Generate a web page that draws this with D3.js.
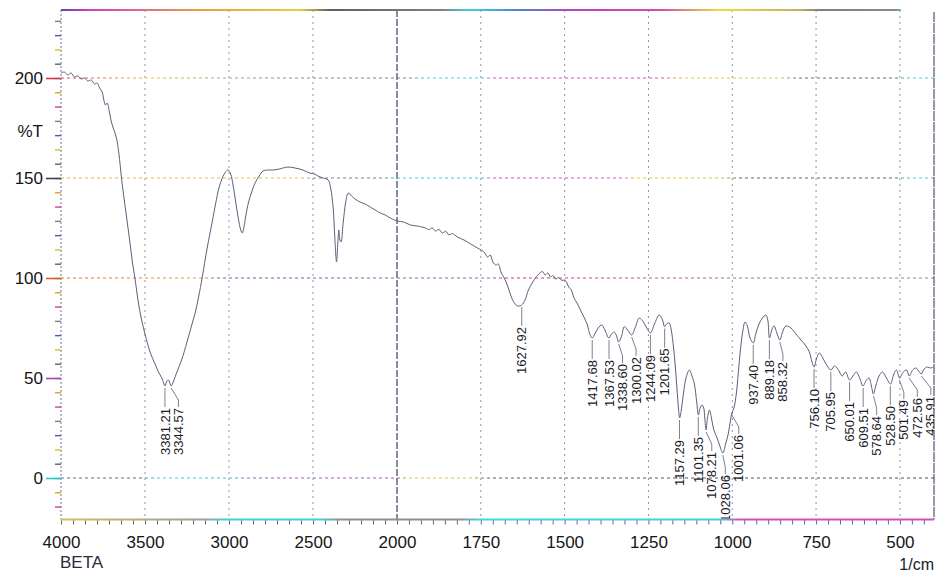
<!DOCTYPE html>
<html lang="en">
<head>
    <meta charset="UTF-8">
    <title>FTIR spectrum - BETA</title>
    <script src="https://d3js.org/d3.v7.min.js"></script>
    <style>
        body { margin: 0; background: #fff; }
        svg { display: block; font-family: "Liberation Sans", Arial, sans-serif; }
    </style>
</head>
<body>

<svg id="chart" width="938" height="576"></svg>

<script>
    // spectrum (wavenumber in 1/cm, transmittance in %T)
    const wavenumber = [
        4000, 3980, 3960, 3940, 3920, 3900, 3880, 3860, 3840, 3820, 3800, 3785, 3770, 3755, 3745, 3735, 3725, 3712,
        3700, 3685, 3670, 3655, 3640, 3625, 3609, 3590, 3575, 3560, 3540, 3520, 3500, 3470, 3440, 3420, 3400, 3381,
        3370, 3360, 3344, 3330, 3310, 3282, 3250, 3220, 3200, 3180, 3160, 3130, 3100, 3080, 3060, 3040, 3020, 3005,
        2990, 2975, 2960, 2945, 2930, 2921, 2912, 2900, 2885, 2865, 2845, 2820, 2798, 2770, 2740, 2700, 2650, 2607,
        2560, 2520, 2490, 2470, 2440, 2410, 2395, 2380, 2370, 2360, 2352, 2346, 2340, 2333, 2320, 2305, 2290, 2270,
        2250, 2220, 2190, 2160, 2130, 2100, 2070, 2040, 2000, 1980, 1960, 1940, 1930, 1915, 1905, 1895, 1885, 1875,
        1865, 1855, 1845, 1835, 1820, 1800, 1780, 1760, 1749, 1738, 1730, 1722, 1714, 1705, 1698, 1689, 1680, 1670,
        1660, 1650, 1640, 1628, 1618, 1608, 1595, 1584, 1574, 1566, 1558, 1550, 1542, 1535, 1527, 1518, 1508, 1500,
        1493, 1488, 1480, 1472, 1463, 1450, 1433, 1425, 1418, 1410, 1400, 1389, 1380, 1368, 1360, 1352, 1345, 1339,
        1330, 1322, 1312, 1300, 1290, 1277, 1265, 1255, 1244, 1232, 1218, 1208, 1202, 1196, 1188, 1182, 1175, 1170,
        1165, 1160, 1157, 1152, 1145, 1138, 1128, 1120, 1113, 1106, 1101, 1096, 1090, 1085, 1082, 1078, 1074, 1068,
        1062, 1055, 1045, 1037, 1028, 1020, 1012, 1006, 1001, 995, 988, 982, 975, 968, 962, 955, 947, 937,
        930, 920, 910, 900, 894, 889, 882, 875, 866, 858, 850, 840, 825, 810, 795, 780, 770, 762,
        756, 748, 740, 730, 720, 706, 695, 685, 672, 662, 650, 640, 630, 620, 610, 600, 592, 585,
        579, 572, 562, 552, 540, 528, 518, 510, 501, 490, 480, 472, 462, 452, 444, 436, 428, 418,
        408, 400
    ];
    const transmittance = [
        202.5, 203, 201.5, 202.5, 200.5, 201, 199.5, 200, 198.5, 199, 197, 197.5, 195, 193, 189, 186.5, 187.5, 183,
        178, 174, 170, 162, 150, 140, 130, 118, 108, 100, 88, 79, 72, 63, 57, 53, 50, 46,
        48.5, 49, 46, 48.5, 53, 59, 68, 77, 83, 91, 100, 115, 128, 137, 145, 150, 153, 154,
        152, 146, 138, 130, 124, 122.5, 125, 131, 137.5, 143, 147.5, 151, 153.5, 154, 154, 154.5, 155.5, 155,
        154, 152.5, 152, 151, 150, 149, 145, 135, 120, 108, 118, 124, 119, 118, 128, 138, 142.5, 141,
        139.5, 138, 137, 135.5, 134, 132.5, 131.5, 130, 128.5, 128, 126.5, 126, 125.7, 125, 124.2, 125, 123.5, 124.3,
        122.5, 123.4, 121.6, 122.2, 120.5, 119, 117, 115, 114, 112.5, 110.5, 111.5, 108, 106.5, 107, 102.5, 100, 96,
        91, 87.5, 86, 86.5, 89, 94, 98, 100.7, 102.5, 103.2, 101.5, 102.5, 100.5, 101.3, 99.5, 100.2, 98.8, 99,
        97.5, 95.5, 94, 90, 87.5, 83, 77, 72, 70, 72, 75, 76.5, 74, 70, 72, 73, 71, 68,
        71, 75.7, 74, 71.5, 75, 80, 78, 75, 72.5, 77, 81.5, 79, 75.7, 77, 77.5, 74, 65, 56,
        45, 34, 30, 34, 43, 50, 54, 51, 47, 38, 31.5, 35, 36.5, 35, 30, 24, 30, 34,
        30, 24, 20, 16, 12.5, 17, 22, 28, 32.5, 35, 42, 52.5, 65, 74, 78, 76, 70, 67.5,
        72, 77, 80, 81.5, 79, 70, 74, 76, 72, 69, 73, 76, 75, 72, 69, 66, 63, 58,
        55.5, 60, 62.5, 60, 57, 54, 56, 54.5, 51, 53, 49, 51, 53, 50, 46, 49, 50, 46,
        42, 46, 51, 53, 50, 47, 52, 54, 50, 53, 54, 51, 54, 55, 53.5, 52, 54.5, 55.5,
        55, 55.5
    ];

    // labelled absorption bands and the %T at each dip
    const peakLabels = [
        "3381.21", "3344.57", "1627.92", "1417.68", "1367.53", "1338.60", "1300.02", "1244.09", "1201.65",
        "1157.29", "1101.35", "1078.21", "1028.06", "1001.06", "937.40", "889.18", "858.32",
        "756.10", "705.95", "650.01", "609.51", "578.64", "528.50", "501.49", "472.56", "435.91"
    ];
    const peakT = [
        46, 46, 86.5, 70, 70, 68, 71.5, 72.5, 75.7,
        30, 31.5, 24, 12.5, 32.5, 67.5, 70, 69,
        55.5, 54, 49, 46, 42, 47, 50, 51, 52
    ];

    // axis ticks
    const xTicks = [4000, 3500, 3000, 2500, 2000, 1750, 1500, 1250, 1000, 750, 500];
    const yTicks = [0, 50, 100, 150, 200];
    const yGrid = [0, 100, 150, 200];   // the 50 line does not show on the print

    const svg = d3.select("#chart");
    const plotLeft = 61, plotRight = 934, plotTop = 10, plotBottom = 519.5;

    // Shimadzu style: scale doubles below 2000 1/cm
    const xScale = d3.scaleLinear()
        .domain([4000, 2000, 400])
        .range([plotLeft, 397, 933.4]);

    const yScale = d3.scaleLinear()
        .domain([-20.75, 234])
        .range([plotBottom, plotTop]);

    // gradients to mimic the colour fringes of the scanned print
    const defs = svg.append("defs");
    function gradient(id, stops) {
        const g = defs.append("linearGradient")
            .attr("id", id)
            .attr("gradientUnits", "userSpaceOnUse")
            .attr("x1", plotLeft).attr("x2", plotRight)
            .attr("y1", 0).attr("y2", 0);
        stops.forEach(s => {
            g.append("stop")
                .attr("offset", (s[0] - plotLeft) / (plotRight - plotLeft))
                .attr("stop-color", s[1]);
        });
    }
    gradient("g200", [[61, "#e0407a"], [150, "#e8c040"], [250, "#9a9a9a"], [400, "#7a7a8a"], [430, "#40d0e0"],
        [480, "#40d0e0"], [500, "#d050c0"], [660, "#d050c0"], [690, "#e8d030"], [780, "#d8c060"], [800, "#707070"],
        [895, "#707070"], [910, "#40d0e0"]]);
    gradient("g150", [[61, "#e8b040"], [300, "#e8c060"], [320, "#808080"], [380, "#808080"], [400, "#40d0e0"],
        [480, "#40c8e0"], [500, "#c850c0"], [620, "#d060c0"], [640, "#e8d030"], [720, "#d8c040"], [740, "#666"],
        [895, "#666"], [910, "#40d0e0"]]);
    gradient("g100", [[61, "#e87030"], [200, "#e0a040"], [220, "#6070a0"], [480, "#6080b0"], [510, "#d04070"],
        [700, "#b06090"], [760, "#8080a0"], [934, "#8a8a9a"]]);
    gradient("g0", [[61, "#707080"], [140, "#707080"], [160, "#40d0e0"], [230, "#40c0d0"], [250, "#a060b0"],
        [397, "#a060b0"], [410, "#e0c040"], [470, "#d0c050"], [490, "#606070"], [934, "#505060"]]);
    gradient("gTop", [[61, "#6040c0"], [90, "#d040c0"], [200, "#e8a040"], [300, "#e0d040"], [330, "#606060"],
        [440, "#808080"], [470, "#40d0e0"], [520, "#5080d0"], [580, "#c040c0"], [660, "#d050a0"], [720, "#e8e040"],
        [800, "#c0b060"], [820, "#808080"], [895, "#8a8a8a"], [905, "#40e0f0"]]);
    gradient("gBottom", [[61, "#d0c060"], [200, "#a0a090"], [230, "#40d0e0"], [320, "#40d0e0"], [340, "#909090"],
        [460, "#909090"], [480, "#40d8e8"], [720, "#40d0e0"], [740, "#d050c0"], [934, "#d050c0"]]);

    // vertical grid
    svg.append("g")
        .selectAll("line")
        .data(xTicks.slice(1))
        .enter()
        .append("line")
        .attr("x1", d => xScale(d))
        .attr("x2", d => xScale(d))
        .attr("y1", plotTop)
        .attr("y2", plotBottom)
        .attr("stroke", d => d === 2000 ? "#2a2a50" : "#9090ac")
        .attr("stroke-width", d => d === 2000 ? 1.1 : 1)
        .attr("stroke-dasharray", d => d === 2000 ? "7,2" : "2,4");

    // horizontal grid
    svg.append("g")
        .selectAll("line")
        .data(yGrid)
        .enter()
        .append("line")
        .attr("x1", plotLeft)
        .attr("x2", plotRight)
        .attr("y1", d => yScale(d))
        .attr("y2", d => yScale(d))
        .attr("stroke", d => `url(#g${d})`)
        .attr("stroke-width", 1.2)
        .attr("stroke-dasharray", "3,3");

    // frame: top, right and bottom rule, left axis dotted
    svg.append("line")
        .attr("x1", plotLeft).attr("x2", xScale(500) + 1)
        .attr("y1", plotTop).attr("y2", plotTop)
        .attr("stroke", "url(#gTop)")
        .attr("stroke-width", 2);
    svg.append("line")
        .attr("x1", plotRight).attr("x2", plotRight)
        .attr("y1", plotTop + 2).attr("y2", plotBottom)
        .attr("stroke", "#303050")
        .attr("stroke-width", 1)
        .attr("stroke-dasharray", "10,1");
    svg.append("line")
        .attr("x1", plotLeft).attr("x2", plotLeft)
        .attr("y1", plotTop).attr("y2", plotBottom)
        .attr("stroke", "#707080")
        .attr("stroke-width", 1)
        .attr("stroke-dasharray", "2,2");

    // bottom axis with 7 minor divisions between labelled ticks
    const xMinor = [];
    for (let i = 0; i < xTicks.length - 1; i++) {
        const step = (xTicks[i] - xTicks[i + 1]) / 7;
        for (let k = 0; k < 7; k++) xMinor.push(xTicks[i] - k * step);
    }
    xMinor.push(500, 500 - 250 / 7, 500 - 500 / 7);

    const xAxisMinor = svg.append("g")
        .attr("transform", `translate(0,${plotBottom})`)
        .call(d3.axisBottom(xScale).tickValues(xMinor).tickSize(5).tickFormat(""));
    xAxisMinor.select(".domain").remove();
    xAxisMinor.selectAll(".tick line").attr("stroke", "#6a6a80");

    svg.append("line")
        .attr("x1", plotLeft).attr("x2", plotRight)
        .attr("y1", plotBottom).attr("y2", plotBottom)
        .attr("stroke", "url(#gBottom)")
        .attr("stroke-width", 2.2);

    const xAxis = svg.append("g")
        .attr("transform", `translate(0,${plotBottom})`)
        .call(d3.axisBottom(xScale).tickValues(xTicks).tickSize(0).tickFormat(d3.format("d")));
    xAxis.select(".domain").remove();
    xAxis.selectAll("text")
        .attr("y", 28)
        .attr("dy", 0)
        .attr("font-size", "17px")
        .attr("font-family", "Liberation Sans, Arial, sans-serif")
        .attr("fill", "#151515");

    // left axis: 7 minor ticks per 50 %T
    const yMinor = [];
    for (let v = -50 / 7 * 2; v <= 234; v += 50 / 7) yMinor.push(v);
    const minorColours = ["#d040a0", "#e0a020", "#40c8d8", "#606070", "#e0c030", "#5050c0", "#808080"];

    const yAxisMinor = svg.append("g")
        .attr("transform", `translate(${plotLeft},0)`)
        .call(d3.axisLeft(yScale).tickValues(yMinor).tickSize(6).tickFormat(""));
    yAxisMinor.select(".domain").remove();
    yAxisMinor.selectAll(".tick line")
        .attr("stroke", (d, i) => minorColours[i % minorColours.length])
        .attr("stroke-width", 1.4);

    const majorColours = { 0: "#30c0d0", 50: "#b040c0", 100: "#e05a20", 150: "#404050", 200: "#e0304a" };
    const yAxis = svg.append("g")
        .attr("transform", `translate(${plotLeft},0)`)
        .call(d3.axisLeft(yScale).tickValues(yTicks).tickSize(15).tickPadding(3));
    yAxis.select(".domain").remove();
    yAxis.selectAll(".tick line")
        .attr("stroke", d => majorColours[d])
        .attr("stroke-width", 1.6);
    yAxis.selectAll("text")
        .attr("font-size", "17px")
        .attr("font-family", "Liberation Sans, Arial, sans-serif")
        .attr("fill", "#151515");

    svg.append("text")
        .attr("x", 43)
        .attr("y", 137)
        .attr("text-anchor", "end")
        .attr("font-size", "17px")
        .attr("fill", "#151515")
        .text("%T");

    svg.append("text")
        .attr("x", 60)
        .attr("y", 568)
        .attr("font-size", "17px")
        .attr("fill", "#2b2b3a")
        .text("BETA");

    svg.append("text")
        .attr("x", 934)
        .attr("y", 570)
        .attr("text-anchor", "end")
        .attr("font-size", "16px")
        .attr("fill", "#202030")
        .text("1/cm");

    // plot area clip
    defs.append("clipPath")
        .attr("id", "plotClip")
        .append("rect")
        .attr("x", plotLeft)
        .attr("y", plotTop)
        .attr("width", plotRight - plotLeft)
        .attr("height", plotBottom - plotTop - 1);

    const spectrum = wavenumber.map((w, i) => [w, transmittance[i]]);

    svg.append("path")
        .datum(spectrum)
        .attr("clip-path", "url(#plotClip)")
        .attr("fill", "none")
        .attr("stroke", "#5c6078")
        .attr("stroke-width", 1)
        .attr("d", d3.line()
            .x(d => xScale(d[0]))
            .y(d => yScale(d[1]))
            .curve(d3.curveCatmullRom.alpha(0.5))
        );

    // peak labels: spread left to right so the vertical texts do not overlap
    const gap = 13.5;
    const peaks = peakLabels.map((lab, i) => ({ label: lab, wn: +lab, t: peakT[i] }));
    let prev = -Infinity;
    peaks.forEach(p => {
        p.x = xScale(p.wn);
        p.lx = Math.max(p.x, prev + gap);
        prev = p.lx;
        p.y = yScale(p.t);
        p.ly = p.y + 22;
    });

    const labels = svg.append("g").attr("clip-path", "url(#plotClip)");

    labels.selectAll(".leader")
        .data(peaks)
        .enter()
        .append("path")
        .attr("class", "leader")
        .attr("fill", "none")
        .attr("stroke", "#606070")
        .attr("stroke-width", 0.8)
        .attr("d", d => `M${d.x},${d.y + 2} L${d.lx},${d.ly - 8} L${d.lx},${d.ly - 1}`);

    labels.selectAll(".peak")
        .data(peaks)
        .enter()
        .append("text")
        .attr("class", "peak")
        .attr("transform", d => `translate(${d.lx},${d.ly}) rotate(-90)`)
        .attr("text-anchor", "end")
        .attr("dy", "0.35em")
        .attr("font-size", "13px")
        .attr("fill", "#1a1a2a")
        .text(d => d.label);
</script>

</body>
</html>
